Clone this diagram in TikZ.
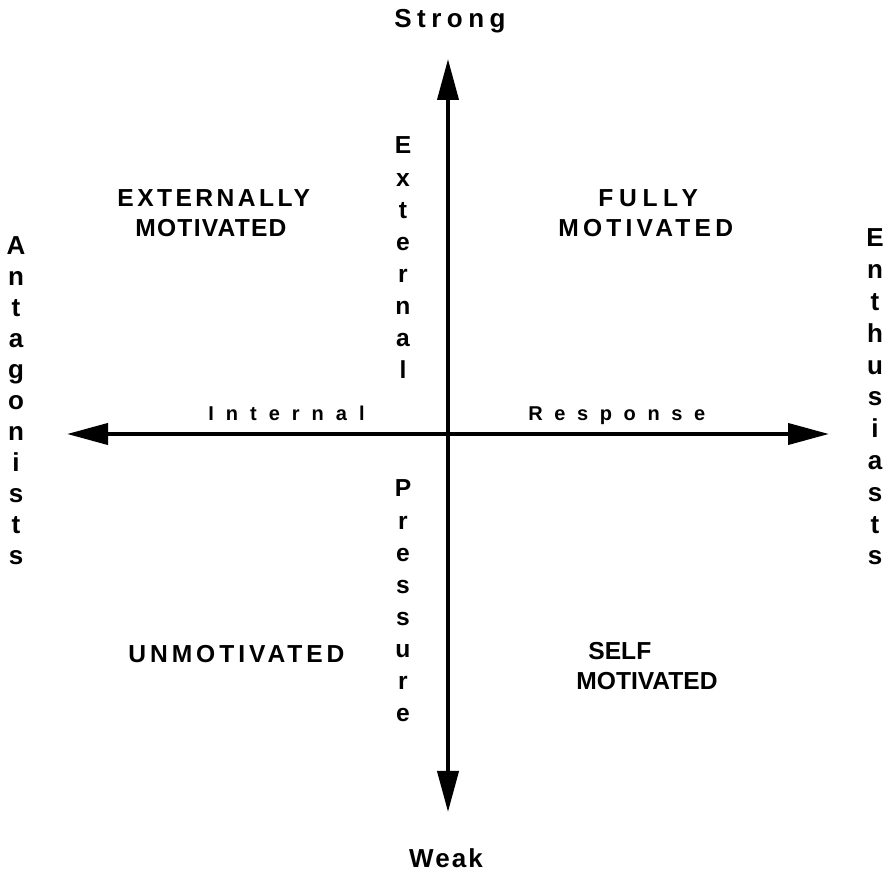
\documentclass[tikz,border=0pt]{standalone}
\usepackage{fontspec}
\setmainfont{Liberation Sans}
\usetikzlibrary{arrows.meta}

% letter spaced words
\newcommand{\track}[2]{{\addfontfeatures{LetterSpace=#1}#2}}

\tikzset{
  axis/.style={line width=2pt,
    {Triangle[length=20.5pt,width=10.5pt]}-{Triangle[length=20.5pt,width=10.5pt]}},
  pole/.style={font=\bfseries\fontsize{13}{13}\selectfont, inner sep=0pt, anchor=base},
  quad/.style={font=\bfseries\fontsize{12.3}{12.3}\selectfont, inner sep=0pt, anchor=base west},
  axisword/.style={font=\bfseries\fontsize{10}{10}\selectfont, inner sep=0pt, anchor=base west},
  stackletter/.style={font=\bfseries\fontsize{12.3}{12.3}\selectfont, inner sep=0pt, anchor=base},
}

\begin{document}
\begin{tikzpicture}[x=0.5pt,y=-0.5pt]
  \useasboundingbox (0,0) rectangle (890,871);

  % the two axes
  \coordinate (top) at (448,59);
  \coordinate (bottom) at (448,812);
  \coordinate (left) at (67,434);
  \coordinate (right) at (829,434);
  \draw[axis] (bottom) -- (top);
  \draw[axis] (left) -- (right);

  % ends of the axes
  \node[pole] (strong) at (450,28) {\track{21}{Strong}};
  \node[pole] (weak) at (446,867) {\track{8}{Weak}};
  \foreach \ch [count=\i] in {A,n,t,a,g,o,n,i,s,t,s}
    \node[pole] (ant-\i) at (16,{255+31*(\i-1)}) {\ch};
  \foreach \ch [count=\i] in {E,n,t,h,u,s,i,a,s,t,s}
    \node[pole] (ent-\i) at (875,{247+31.8*(\i-1)}) {\ch};

  % words along the axes
  \node[axisword] (internal) at (208,421) {\track{60}{Internal}};
  \node[axisword] (response) at (528,421) {\track{58}{Response}};
  \foreach \ch [count=\i] in {E,x,t,e,r,n,a,l}
    \node[stackletter] (ext-\i) at (403,{154+32.1*(\i-1)}) {\ch};
  \foreach \ch [count=\i] in {P,r,e,s,s,u,r,e}
    \node[stackletter] (pre-\i) at (403,{497+32.1*(\i-1)}) {\ch};

  % quadrants
  \node[quad] (ext-a) at (117,207) {\track{14}{EXTERNALLY}};
  \node[quad] (ext-b) at (135,237) {\track{5}{MOTIVATED}};
  \node[quad] (full-a) at (598,207) {\track{23}{FULLY}};
  \node[quad] (full-b) at (558,237) {\track{17}{MOTIVATED}};
  \node[quad] (un) at (128,663) {\track{16}{UNMOTIVATED}};
  \node[quad] (self-a) at (588,660) {SELF};
  \node[quad] (self-b) at (576,690) {MOTIVATED};
\end{tikzpicture}
\end{document}
